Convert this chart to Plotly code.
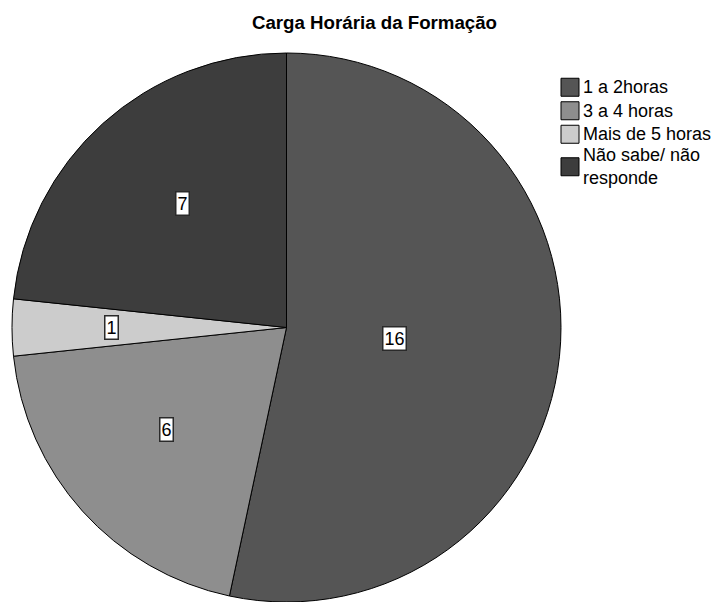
import math
import plotly.graph_objects as go

title = "Carga Horária da Formação"
categories = ["1 a 2horas", "3 a 4 horas", "Mais de 5 horas", "Não sabe/ não<br>responde"]
values = [16, 6, 1, 7]
colors = ["#555555", "#8e8e8e", "#cccccc", "#3d3d3d"]

W, H = 719, 602
cx, cy, R = 286.5, 327.5, 274.5  # pixel geometry of the pie
FONT = "Liberation Sans, Arial, sans-serif"

fig = go.Figure(go.Pie(
    labels=categories,
    values=values,
    sort=False,
    direction="clockwise",
    rotation=0,
    textinfo="none",
    hoverinfo="label+value",
    showlegend=False,
    marker=dict(colors=colors, line=dict(color="#000000", width=1)),
    domain=dict(x=[(cx - R) / W, (cx + R) / W], y=[max(0, 1 - (cy + R) / H), 1 - (cy - R) / H]),
))

def px2x(p):
    return p / W

def px2y(p):
    return 1 - p / H

# value labels at sector centroids
total = sum(values)
start = 0.0
annotations = []
shapes = []
for v in values:
    span = 2 * math.pi * v / total
    mid = start + span / 2
    half = span / 2
    d = 2 * math.sin(half) / (3 * half)
    lx = cx + d * R * math.sin(mid)
    ly = cy - d * R * math.cos(mid)
    annotations.append(dict(
        x=px2x(lx), y=px2y(ly), xref="paper", yref="paper",
        text=str(v), showarrow=False,
        font=dict(family=FONT, size=18, color="#000000"),
        bgcolor="#ffffff", bordercolor="#2a2a2a", borderwidth=1.5, borderpad=1,
    ))
    start += span

# legend (drawn as swatches + text to match the compact SPSS-style layout)
ROW, LINE = 23.5, 18.0
top = 75.5
for cat, col in zip(categories, colors):
    n = len(cat.split("<br>"))
    h = ROW + (n - 1) * LINE
    c = top + h / 2
    shapes.append(dict(type="rect", xref="paper", yref="paper",
                       x0=px2x(561), x1=px2x(579), y0=px2y(c - 9), y1=px2y(c + 9),
                       fillcolor=col, line=dict(color="#000000", width=1)))
    annotations.append(dict(x=px2x(582), y=px2y(c), xref="paper", yref="paper",
                            xanchor="left", yanchor="middle", align="left",
                            text=cat, showarrow=False, borderpad=0,
                            font=dict(family=FONT, size=18, color="#000000")))
    top += h

fig.update_layout(
    width=W, height=H,
    margin=dict(l=0, r=0, t=0, b=0),
    paper_bgcolor="#ffffff",
    plot_bgcolor="#ffffff",
    showlegend=False,
    title=dict(text="<b>" + title + "</b>", x=374.5 / W, xanchor="center", y=1 - 22 / H, yanchor="middle",
               font=dict(family=FONT, size=18.7, color="#000000")),
    annotations=annotations,
    shapes=shapes,
)

fig.write_html("out.html", config={"displayModeBar": False},
               post_script="document.body.style.margin='0';")
